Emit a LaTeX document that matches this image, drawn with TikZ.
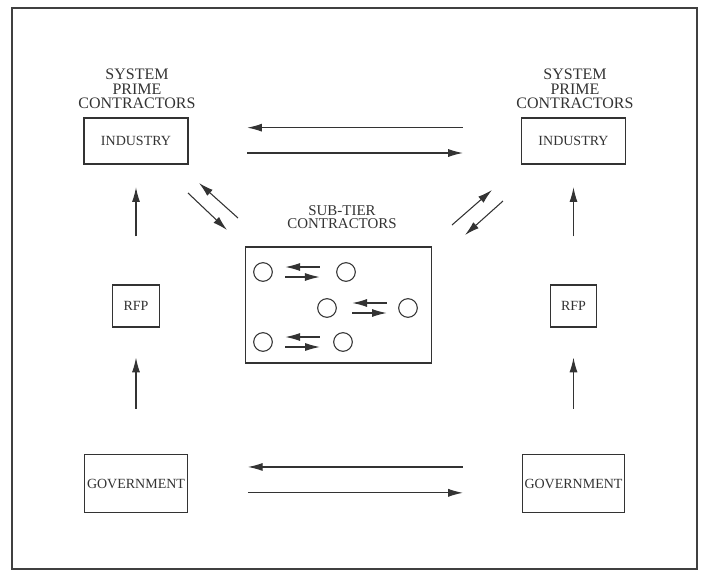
\documentclass[tikz,border=0pt]{standalone}
\usepackage{fontspec}
\setmainfont{Liberation Serif}
\usetikzlibrary{arrows.meta,calc}

\begin{document}
\begin{tikzpicture}[x=0.75pt,y=-0.75pt,>={Latex[length=11pt,width=6pt]},
	ink/.style={black!80},
	box/.style={draw,ink,line width=0.9pt,inner sep=0pt,font=\fontsize{10.5}{12}\selectfont},
	lbl/.style={ink,align=center,inner sep=0pt,font=\fontsize{12}{10.9}\selectfont},
	arr/.style={->,ink,line width=0.8pt},
	firm/.style={circle,draw,ink,line width=0.8pt,minimum size=14pt,inner sep=0pt}]
	
	\useasboundingbox (0,0) rectangle (701,572);
	
	% Outer frame
	\draw[black!75,line width=1.8pt] (12,8) rectangle (697,569);
	
	% Prime contractors (industry) on both sides
	\node[lbl] (labL) at (137,89) {SYSTEM\\PRIME\\CONTRACTORS};
	\node[lbl] (labR) at (575,89) {SYSTEM\\PRIME\\CONTRACTORS};
	\node[box,minimum width=78pt,minimum height=34.5pt] (indL) at (136,141) {INDUSTRY};
	\node[box,minimum width=78pt,minimum height=34.5pt] (indR) at (573.5,141) {INDUSTRY};
	
	% Requests for proposal
	\node[box,minimum width=35pt,minimum height=31.5pt] (rfpL) at (136,306) {RFP};
	\node[box,minimum width=35pt,minimum height=31.5pt] (rfpR) at (573.5,306) {RFP};
	
	% Governments
	\node[box,minimum width=77pt,minimum height=43pt] (govL) at (136,483.5) {GOVERNMENT};
	\node[box,minimum width=77pt,minimum height=43pt] (govR) at (573.5,483.5) {GOVERNMENT};
	
	% Sub-tier contractors
	\node[lbl,font=\fontsize{11.2}{10}\selectfont] (labS) at (342,217) {SUB-TIER\\CONTRACTORS};
	\node[box,minimum width=140pt,minimum height=87pt] (sub) at (338.5,305) {};
	\node[firm] (c1) at (263,272) {};
	\node[firm] (c2) at (346,272) {};
	\node[firm] (c3) at (327,308) {};
	\node[firm] (c4) at (408,308) {};
	\node[firm] (c5) at (263,342) {};
	\node[firm] (c6) at (343,342) {};
	
	% Exchanges between sub-tier firms
	\draw[arr,shorten <=12.4pt,shorten >=9.4pt] ([yshift=3.75pt]c2.west) -- ([yshift=3.75pt]c1.east);
	\draw[arr,shorten <=9.4pt,shorten >=12.4pt] ([yshift=-3.75pt]c1.east) -- ([yshift=-3.75pt]c2.west);
	\draw[arr,shorten <=8.6pt,shorten >=11.6pt] ([yshift=3.75pt]c4.west) -- ([yshift=3.75pt]c3.east);
	\draw[arr,shorten <=11.6pt,shorten >=8.6pt] ([yshift=-3.75pt]c3.east) -- ([yshift=-3.75pt]c4.west);
	\draw[arr,shorten <=10pt,shorten >=9.4pt] ([yshift=3.75pt]c6.west) -- ([yshift=3.75pt]c5.east);
	\draw[arr,shorten <=9.4pt,shorten >=10pt] ([yshift=-3.75pt]c5.east) -- ([yshift=-3.75pt]c6.west);
	
	% Industry to industry
	\draw[arr,shorten <=43.5pt,shorten >=44pt] ([yshift=10pt]indR.west) -- ([yshift=10pt]indL.east);
	\draw[arr,shorten <=44pt,shorten >=43.5pt] ([yshift=-9pt]indL.east) -- ([yshift=-9pt]indR.west);
	
	% Government to government
	\draw[arr,shorten <=44pt,shorten >=45pt] ([yshift=12.4pt]govR.west) -- ([yshift=12.4pt]govL.east);
	\draw[arr,shorten <=45pt,shorten >=44pt] ([yshift=-7pt]govL.east) -- ([yshift=-7pt]govR.west);
	
	% Government -> RFP -> industry
	\draw[arr,shorten <=34pt,shorten >=22.5pt] (govL.north) -- (rfpL.south);
	\draw[arr,shorten <=34pt,shorten >=22.5pt] (govR.north) -- (rfpR.south);
	\draw[arr,shorten <=36pt,shorten >=17pt] (rfpL.north) -- (indL.south);
	\draw[arr,shorten <=36pt,shorten >=17pt] (rfpR.north) -- (indR.south);
	
	% Industry to sub-tier (diagonals)
	\coordinate (dl1) at (238,218);
	\coordinate (dl2) at (199,183);
	\coordinate (dl3) at (188,193);
	\coordinate (dl4) at (227,230);
	\coordinate (dr1) at (452,225);
	\coordinate (dr2) at (492,190);
	\coordinate (dr3) at (503,201);
	\coordinate (dr4) at (465,235);
	\draw[arr] (dl1) -- (dl2);
	\draw[arr] (dl3) -- (dl4);
	\draw[arr] (dr1) -- (dr2);
	\draw[arr] (dr3) -- (dr4);
	
\end{tikzpicture}
\end{document}
